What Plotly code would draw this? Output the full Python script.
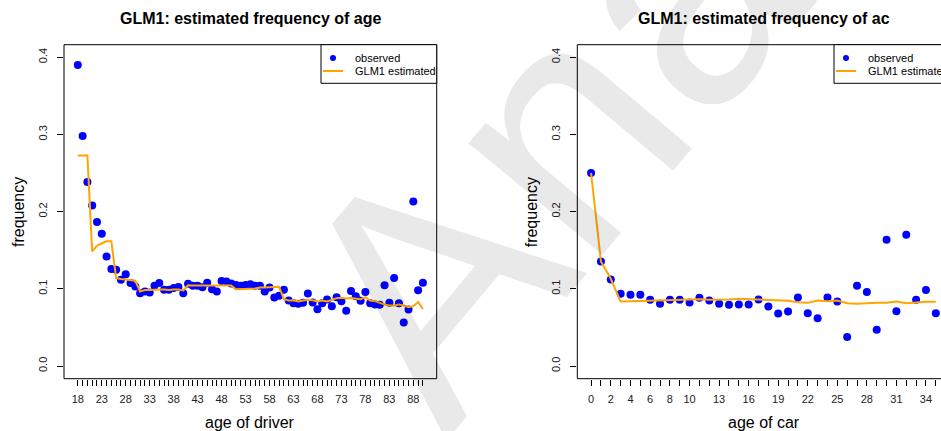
import plotly.graph_objects as go

# ---- data -------------------------------------------------------------
driver_age = list(range(18, 91))
age_observed = [
    0.390, 0.298, 0.2385, 0.208, 0.1866, 0.1714, 0.142, 0.1255, 0.1247, 0.1117,
    0.119, 0.1074, 0.103, 0.0944, 0.0965, 0.0952, 0.1039, 0.1074, 0.0987, 0.0987,
    0.1009, 0.1022, 0.0944, 0.1065, 0.104, 0.104, 0.102, 0.108, 0.0995, 0.0965,
    0.110, 0.1095, 0.107, 0.105, 0.104, 0.105, 0.106, 0.104, 0.104, 0.0965,
    0.1017, 0.0887, 0.091, 0.0987, 0.0850, 0.0814, 0.0805, 0.082, 0.0939, 0.0823,
    0.0736, 0.0814, 0.0862, 0.0775, 0.0892, 0.0840, 0.0716, 0.0970, 0.0905, 0.0846,
    0.0959, 0.0814, 0.0798, 0.0792, 0.1047, 0.0818, 0.114, 0.0814, 0.0563, 0.0732,
    0.213, 0.0980, 0.1078,
]
age_glm1 = [
    0.2727, 0.2727, 0.2727, 0.1485, 0.1558, 0.159, 0.1615, 0.1615, 0.1139, 0.1126,
    0.1117, 0.1104, 0.1104, 0.0965, 0.0983, 0.0983, 0.0990, 0.0990, 0.0990, 0.0983,
    0.0990, 0.0990, 0.0978, 0.1045, 0.1043, 0.1043, 0.1045, 0.1043, 0.1045, 0.1043,
    0.1045, 0.1045, 0.1043, 0.0995, 0.1000, 0.1000, 0.1002, 0.1005, 0.1017, 0.1017,
    0.1017, 0.1020, 0.1025, 0.0866, 0.0848, 0.0852, 0.0835, 0.0848, 0.0857, 0.0852,
    0.0835, 0.0848, 0.0835, 0.0857, 0.0879, 0.0883, 0.0874, 0.0880, 0.0874, 0.0866,
    0.0892, 0.0848, 0.0840, 0.0815, 0.0797, 0.0785, 0.0785, 0.0795, 0.0784, 0.0762,
    0.0775, 0.0828, 0.0738,
]
age_tick_labels = [18, 23, 28, 33, 38, 43, 48, 53, 58, 63, 68, 73, 78, 83, 88]

car_age = list(range(0, 36))
ac_observed = [
    0.250, 0.1355, 0.1121, 0.0935, 0.0922, 0.0922, 0.0857, 0.0805, 0.0857, 0.0857,
    0.0823, 0.0883, 0.0848, 0.0805, 0.0792, 0.0797, 0.0797, 0.0861, 0.0771, 0.0680,
    0.0706, 0.0887, 0.0684, 0.0619, 0.0887, 0.0835, 0.0377, 0.1039, 0.0957, 0.0468,
    0.1636, 0.0710, 0.1701, 0.0857, 0.0983, 0.0684,
]
ac_glm1 = [
    0.250, 0.1355, 0.113, 0.0835, 0.0840, 0.0844, 0.0844, 0.0848, 0.0850, 0.0857,
    0.0866, 0.0866, 0.0857, 0.0857, 0.0861, 0.0870, 0.0866, 0.0857, 0.0861, 0.0857,
    0.0844, 0.0827, 0.0818, 0.0848, 0.0840, 0.0848, 0.0814, 0.0805, 0.0814, 0.0818,
    0.0818, 0.0835, 0.0814, 0.0823, 0.0831, 0.0831,
]
ac_tick_labels = [0, 2, 4, 6, 8, 10, 13, 16, 19, 22, 25, 28, 31, 34]

freq_ticks = [0.0, 0.1, 0.2, 0.3, 0.4]

# ---- page geometry (pixels) ---------------------------------------------
W, H = 941, 431
FONT = "Liberation Sans, Arial, Helvetica, sans-serif"
BLUE = "#0000FF"
ORANGE = "#FFA500"


def px(x):
    return x / W


def py(y):
    return 1 - y / H


left_box = (64.0, 436.7)
right_box = (577.3, 949.6)
box_top, box_bottom = 44.7, 378.7
y_range = [-0.01645, 0.4162]

fig = go.Figure()

# observed frequencies first, fitted curve drawn on top
fig.add_trace(go.Scatter(x=driver_age, y=age_observed, mode="markers",
                         marker=dict(color=BLUE, size=8, line=dict(width=0)),
                         xaxis="x", yaxis="y", showlegend=False))
fig.add_trace(go.Scatter(x=driver_age, y=age_glm1, mode="lines",
                         line=dict(color=ORANGE, width=2),
                         xaxis="x", yaxis="y", showlegend=False))
fig.add_trace(go.Scatter(x=car_age, y=ac_observed, mode="markers",
                         marker=dict(color=BLUE, size=8, line=dict(width=0)),
                         xaxis="x2", yaxis="y2", showlegend=False))
fig.add_trace(go.Scatter(x=car_age, y=ac_glm1, mode="lines",
                         line=dict(color=ORANGE, width=2),
                         xaxis="x2", yaxis="y2", showlegend=False))

tickfont = dict(family=FONT, size=11, color="#222222")
common_x = dict(ticks="outside", ticklen=6, tickwidth=1, tickcolor="black",
                showgrid=False, zeroline=False, showline=False,
                tickfont=tickfont, fixedrange=True, tickangle=0)
common_y = dict(ticks="outside", ticklen=6, tickwidth=1, tickcolor="black",
                showgrid=False, zeroline=False, showline=False,
                tickfont=tickfont, tickangle=-90, range=y_range,
                tickvals=freq_ticks, ticktext=[f"{v:.1f}" for v in freq_ticks],
                domain=[py(box_bottom), py(box_top)], ticklabelstandoff=6)

# x range: data range padded by 4% on each side
fig.update_layout(
    width=W, height=H,
    margin=dict(l=0, r=0, t=0, b=0, pad=0),
    paper_bgcolor="white", plot_bgcolor="white",
    font=dict(family=FONT, color="black"),
    showlegend=False,
    xaxis=dict(common_x, domain=[px(left_box[0]), px(left_box[1])],
               range=[15.12, 92.88], tickvals=driver_age,
               ticktext=[str(a) if a in age_tick_labels else "" for a in driver_age],
               anchor="y", ticklabelstandoff=4),
    yaxis=dict(common_y, anchor="x"),
    xaxis2=dict(common_x, domain=[px(right_box[0]), 1.0],
                range=[-1.4, -1.4 + (W - right_box[0]) / (right_box[1] - right_box[0]) * 37.8],
                tickvals=car_age,
                ticktext=[str(a) if a in ac_tick_labels else "" for a in car_age],
                anchor="y2", ticklabelstandoff=4),
    yaxis2=dict(common_y, anchor="x2"),
)

shapes = []
annotations = []

# large faint diagonal lettering across both panels
annotations.append(dict(text="Ana", xref="paper", yref="paper",
                        x=px(547), y=py(142), xanchor="center", yanchor="middle",
                        textangle=-50, showarrow=False,
                        font=dict(family=FONT, size=330, color="rgba(0,0,0,0.085)")))

for (x0, x1), cx, title, xlabel in [
    (left_box, 250.4, "GLM1: estimated frequency of age", "age of driver"),
    (right_box, 763.5, "GLM1: estimated frequency of ac", "age of car"),
]:
    # frame around the plotting region
    shapes.append(dict(type="rect", xref="paper", yref="paper",
                       x0=px(x0), x1=px(x1), y0=py(box_bottom), y1=py(box_top),
                       line=dict(color="black", width=1)))
    annotations.append(dict(text=f"<b>{title}</b>", xref="paper", yref="paper",
                            x=px(cx), y=py(18), xanchor="center", yanchor="middle",
                            showarrow=False, font=dict(family=FONT, size=16)))
    annotations.append(dict(text=xlabel, xref="paper", yref="paper",
                            x=px(cx), y=py(422), xanchor="center", yanchor="middle",
                            showarrow=False, font=dict(family=FONT, size=16)))
    annotations.append(dict(text="frequency", xref="paper", yref="paper",
                            x=px(x0 - 46), y=py(212), xanchor="center", yanchor="middle",
                            textangle=-90, showarrow=False,
                            font=dict(family=FONT, size=16)))

# legends (top-right corner of each panel)
for lx0, lx1 in [(321.0, 436.7), (834.0, 960.0)]:
    shapes.append(dict(type="rect", xref="paper", yref="paper",
                       x0=px(lx0), x1=px(lx1), y0=py(83.3), y1=py(box_top),
                       fillcolor="white", line=dict(color="black", width=1)))
    shapes.append(dict(type="circle", xref="paper", yref="paper",
                       x0=px(lx0 + 12 - 3), x1=px(lx0 + 12 + 3),
                       y0=py(58 + 3), y1=py(58 - 3),
                       fillcolor=BLUE, line=dict(color=BLUE, width=0)))
    shapes.append(dict(type="line", xref="paper", yref="paper",
                       x0=px(lx0 + 2), x1=px(lx0 + 22), y0=py(71), y1=py(71),
                       line=dict(color=ORANGE, width=2)))
    annotations.append(dict(text="observed", xref="paper", yref="paper",
                            x=px(lx0 + 31.5), y=py(58), xanchor="left", yanchor="middle",
                            showarrow=False, font=dict(family=FONT, size=11)))
    annotations.append(dict(text="GLM1 estimated", xref="paper", yref="paper",
                            x=px(lx0 + 31.5), y=py(71), xanchor="left", yanchor="middle",
                            showarrow=False, font=dict(family=FONT, size=11)))

fig.update_layout(shapes=shapes, annotations=annotations)
fig.write_html("out.html")
